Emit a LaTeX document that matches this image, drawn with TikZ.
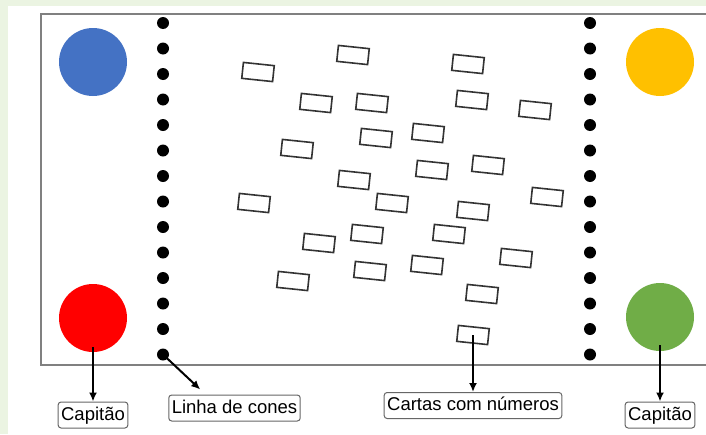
\documentclass[tikz,border=0pt]{standalone}
\usepackage{fontspec}
\newfontfamily\rotulofont{Liberation Sans}
\usetikzlibrary{arrows.meta}
\definecolor{fundo}{HTML}{EBF4E2}
\definecolor{azul}{HTML}{4472C4}
\definecolor{vermelho}{HTML}{FF0000}
\definecolor{laranja}{HTML}{FFC000}
\definecolor{verde}{HTML}{70AD47}
\begin{document}
\begin{tikzpicture}[x=1pt,y=-1pt,
		capitao/.style={circle, minimum size=68pt, inner sep=0pt},
		cone/.style={circle, fill=black, minimum size=12pt, inner sep=0pt},
		carta/.style={draw=black!80, line width=1.6pt, minimum width=31pt, minimum height=16pt, inner sep=0pt, rotate=-6},
		rotulo/.style={draw=black!60, line width=1pt, rounded corners=3pt, font=\rotulofont\fontsize{18.5}{20}\selectfont, inner xsep=3pt, inner ysep=0pt, minimum height=26pt, text height=13.5pt, text depth=3.5pt},
		seta/.style={-{Latex[length=9pt,width=8pt]}, line width=2pt}]
				\useasboundingbox[fill=fundo] (0,0) rectangle (706,434);
				\fill[white] (8,6) rectangle (706,434);
				\draw[gray, line width=1.8pt] (706,14) -- (41,14) -- (41,365) -- (706,365);
				\node[capitao, fill=azul] (capAzul) at (93,62) {};
				\node[capitao, fill=vermelho] (capVermelho) at (93,318) {};
				\node[capitao, fill=laranja] (capLaranja) at (660,62) {};
				\node[capitao, fill=verde] (capVerde) at (660,317) {};
				\foreach \i in {0,...,13} {
					\node[cone] (cl\i) at (163,{23+25.5*\i}) {};
					\node[cone] (cr\i) at (590,{23+25.5*\i}) {};
				}
				\foreach \x/\y [count=\n] in {258/72, 353/55, 468/64, 316/103, 372/103, 472/100, 535/110,
						297/149, 376/138, 428/133, 432/170, 488/165, 354/180, 254/203, 392/203, 473/211,
						547/197, 319/243, 367/234, 449/234, 516/258, 293/281, 370/271, 427/265, 482/294, 473/335}
					\node[carta] (carta\n) at (\x,\y) {};
				\node[rotulo] (lblVermelho) at (93,415) {Capitão};
				\node[rotulo] (lblCones) at (234.5,408) {Linha de cones};
				\node[rotulo] (lblCartas) at (473,405.5) {Cartas com números};
				\node[rotulo] (lblVerde) at (660,415) {Capitão};
				\draw[seta] (capVermelho.center |- 0,347) -- (lblVermelho.north);
				\draw[seta] (cl13.center) -- ([xshift=32pt,yshift=5pt]lblCones.north west);
				\draw[seta] (carta26.center) -- (lblCartas.north);
				\draw[seta] (capVerde.center |- 0,345) -- (lblVerde.north);
			\end{tikzpicture}
\end{document}
